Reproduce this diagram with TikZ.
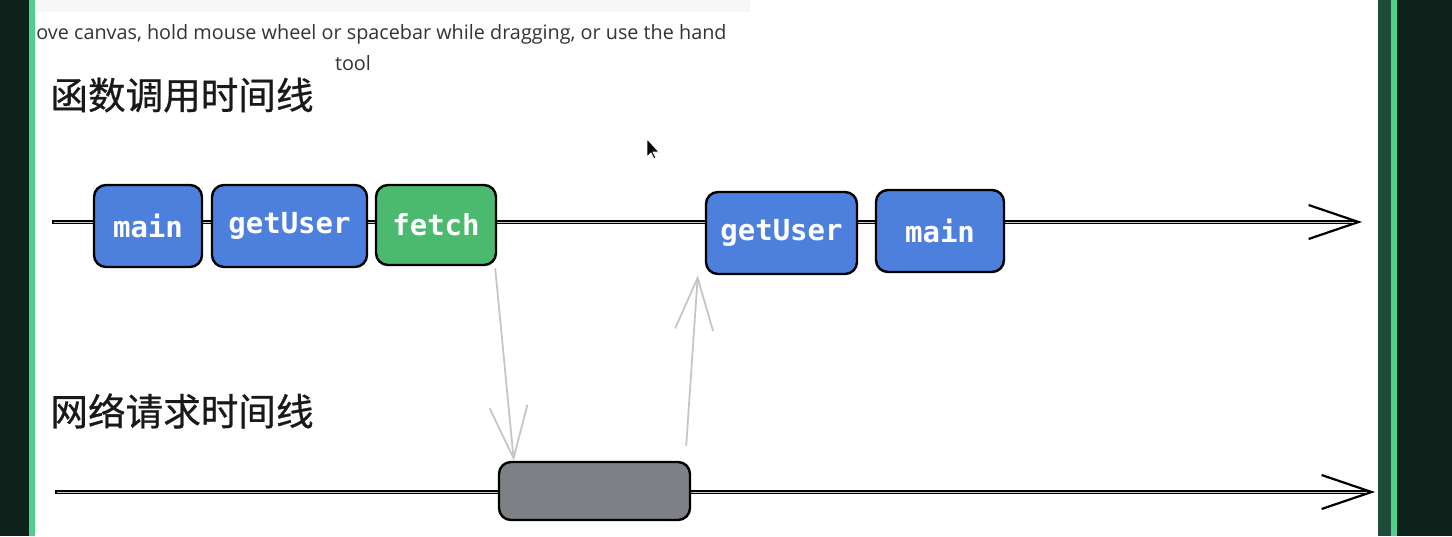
\documentclass[tikz,border=0pt]{standalone}
\usepackage{fontspec}
\setmainfont{Open Sans}
\setmonofont{DejaVu Sans Mono}
\newfontfamily\cjk[FakeBold=0.7]{Noto Sans CJK SC}
\usepackage{tikz}
\usetikzlibrary{arrows.meta}
\definecolor{callblue}{RGB}{76,128,220}
\definecolor{fetchgreen}{RGB}{76,186,110}
\definecolor{netgrey}{RGB}{125,129,133}
\definecolor{framedark}{RGB}{15,34,28}
\definecolor{framemid}{RGB}{30,75,58}
\definecolor{framegreen}{RGB}{80,207,138}
\tikzstyle{callbox} = [rectangle, rounded corners=6pt, minimum height=41pt, inner sep=0pt, text centered, draw=black, line width=1.2pt, fill=callblue, text=white, font=\ttfamily\bfseries\fontsize{14.5}{16}\selectfont]
\tikzstyle{fetchbox} = [callbox, fill=fetchgreen]
\tikzstyle{netbox} = [callbox, fill=netgrey, minimum height=29pt]
\tikzstyle{title} = [anchor=west, inner sep=0pt, text=black!90, font=\cjk\fontsize{18.8}{21}\selectfont]
\tikzstyle{hint} = [inner sep=0pt, text=black!80, font=\fontsize{9.9}{11}\selectfont]
\tikzstyle{timeline} = [line width=1.7pt, -{Straight Barb[length=25pt, width=17pt, line width=1.1pt]}]
\tikzstyle{timegap} = [line width=0.45pt, draw=gray!45, shorten >=4pt, shorten <=1pt]
\tikzstyle{reqarrow} = [line width=0.9pt, draw=gray!45, -{Straight Barb[length=26pt, width=19pt]}]

\begin{document}
\begin{tikzpicture}[x=0.5pt, y=-0.5pt]
\useasboundingbox (0,0) rectangle (1452,536);
% frame
\fill[framedark] (0,0) rectangle (29,536);
\fill[framegreen] (29,0) rectangle (35,536);
\fill[framemid] (1378,0) rectangle (1391,536);
\fill[framegreen] (1391,0) rectangle (1397,536);
\fill[framedark] (1397,0) rectangle (1452,536);
\fill[gray!6] (36,0) rectangle (750,12);

% hint text
\node (hint1) [hint, anchor=west] at (36,34) {ove canvas, hold mouse wheel or spacebar while dragging, or use the hand};
\node (hint2) [hint] at (353,63) {tool};

% titles
\node (fntitle) [title] at (50,95) {函数调用时间线};
\node (nettitle) [title] at (50,411) {网络请求时间线};

% timelines
\coordinate (fnstart) at (52,222);
\coordinate (fnend) at (1362,222);
\coordinate (netstart) at (55,492);
\coordinate (netend) at (1375,492);
\draw [timeline] (fnstart) -- (fnend);
\draw [timegap] (fnstart) -- (fnend);
\draw [timeline] (netstart) -- (netend);
\draw [timegap] (netstart) -- (netend);

% call stack boxes
\node (main) [callbox, minimum width=54pt] at (148,226) {main};
\node (getUser) [callbox, minimum width=77.5pt] at (289.5,226) {getUser};
\node (fetch) [fetchbox, minimum width=60pt, minimum height=40pt] at (436,225) {fetch};
\node (getUserback) [callbox, minimum width=75.5pt] at (781.5,233) {getUser};
\node (mainback) [callbox, minimum width=64pt] at (940,231) {main};
\node (request) [netbox, minimum width=95.5pt] at (594.5,491) {};

% request arrows
\draw [reqarrow] ([xshift=-1pt, yshift=-1pt]fetch.south east) -- ([xshift=8pt]request.north west);
\draw [reqarrow] ([xshift=-2.5pt, yshift=7.5pt]request.north east) -- ([xshift=-3.5pt]getUserback.south west);

% cursor
\filldraw[black, draw=white, line width=0.4pt] (647,139) -- (647,157) -- (651,153) -- (654,159) -- (656,158) -- (653,152) -- (659,152) -- cycle;
\end{tikzpicture}
\end{document}
